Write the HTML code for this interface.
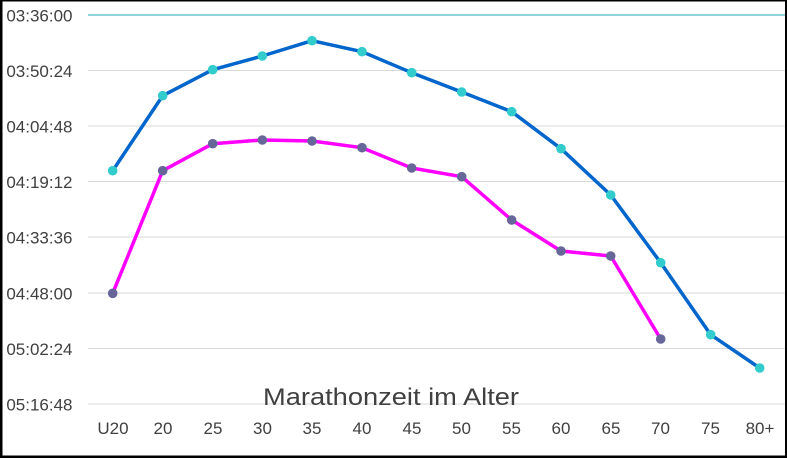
<!DOCTYPE html>
<html><head><meta charset="utf-8"><style>
html,body{margin:0;padding:0;background:#fff}
svg{display:block}
text{font-family:"Liberation Sans",Arial,sans-serif;fill:#404040}
</style></head><body>
<svg width="787" height="458" viewBox="0 0 787 458" xmlns="http://www.w3.org/2000/svg">
<rect x="0" y="0" width="787" height="458" fill="#000"/>
<rect x="2.5" y="1.5" width="782.5" height="454" fill="#fff"/>
<g stroke="#d9d9d9" stroke-width="1">
<line x1="88" y1="70.5" x2="785" y2="70.5"/>
<line x1="88" y1="126" x2="785" y2="126"/>
<line x1="88" y1="181.5" x2="785" y2="181.5"/>
<line x1="88" y1="237" x2="785" y2="237"/>
<line x1="88" y1="293" x2="785" y2="293"/>
<line x1="88" y1="348.5" x2="785" y2="348.5"/>
<line x1="88" y1="404" x2="785" y2="404"/>
</g>
<line x1="88" y1="15" x2="785" y2="15" stroke="#4bbcc2" stroke-width="1.3"/>
<g font-size="17" text-anchor="end">
<text x="72.5" y="21.5">03:36:00</text>
<text x="72.5" y="77">03:50:24</text>
<text x="72.5" y="132.5">04:04:48</text>
<text x="72.5" y="188">04:19:12</text>
<text x="72.5" y="243.5">04:33:36</text>
<text x="72.5" y="299.5">04:48:00</text>
<text x="72.5" y="355">05:02:24</text>
<text x="72.5" y="410.5">05:16:48</text>
</g>
<g font-size="17" text-anchor="middle">
<text x="113" y="434">U20</text>
<text x="163" y="434">20</text>
<text x="213" y="434">25</text>
<text x="262.5" y="434">30</text>
<text x="312" y="434">35</text>
<text x="362" y="434">40</text>
<text x="412" y="434">45</text>
<text x="461.5" y="434">50</text>
<text x="511.5" y="434">55</text>
<text x="561" y="434">60</text>
<text x="611" y="434">65</text>
<text x="660.5" y="434">70</text>
<text x="710.5" y="434">75</text>
<text x="760" y="434">80+</text>
</g>
<text x="263" y="405" font-size="24" textLength="256" lengthAdjust="spacingAndGlyphs">Marathonzeit im Alter</text>
<polyline fill="none" stroke="#0066cc" stroke-width="3.5" stroke-linejoin="round" points="112.7,170.7 162.7,95.7 212.7,69.7 262.3,56 312,40.7 362,51.7 411.7,72.7 461.7,92 511.7,111.7 561,148.7 610.7,195 660.7,262.7 710.7,334.7 759.7,368"/>
<polyline fill="none" stroke="#ff00ff" stroke-width="3.5" stroke-linejoin="round" points="112.7,293.3 162.7,170.7 212.7,143.7 262.3,140 312,141 362,147.7 411.7,168 461.7,176.7 511.7,220 561,251 610.7,256 660.7,339"/>
<g fill="#33cccc">
<circle cx="112.7" cy="170.7" r="4.8"/><circle cx="162.7" cy="95.7" r="4.8"/><circle cx="212.7" cy="69.7" r="4.8"/><circle cx="262.3" cy="56" r="4.8"/><circle cx="312" cy="40.7" r="4.8"/><circle cx="362" cy="51.7" r="4.8"/><circle cx="411.7" cy="72.7" r="4.8"/><circle cx="461.7" cy="92" r="4.8"/><circle cx="511.7" cy="111.7" r="4.8"/><circle cx="561" cy="148.7" r="4.8"/><circle cx="610.7" cy="195" r="4.8"/><circle cx="660.7" cy="262.7" r="4.8"/><circle cx="710.7" cy="334.7" r="4.8"/><circle cx="759.7" cy="368" r="4.8"/>
</g>
<g fill="#666699">
<circle cx="112.7" cy="293.3" r="4.8"/><circle cx="162.7" cy="170.7" r="4.8"/><circle cx="212.7" cy="143.7" r="4.8"/><circle cx="262.3" cy="140" r="4.8"/><circle cx="312" cy="141" r="4.8"/><circle cx="362" cy="147.7" r="4.8"/><circle cx="411.7" cy="168" r="4.8"/><circle cx="461.7" cy="176.7" r="4.8"/><circle cx="511.7" cy="220" r="4.8"/><circle cx="561" cy="251" r="4.8"/><circle cx="610.7" cy="256" r="4.8"/><circle cx="660.7" cy="339" r="4.8"/>
</g>
</svg>
</body></html>
